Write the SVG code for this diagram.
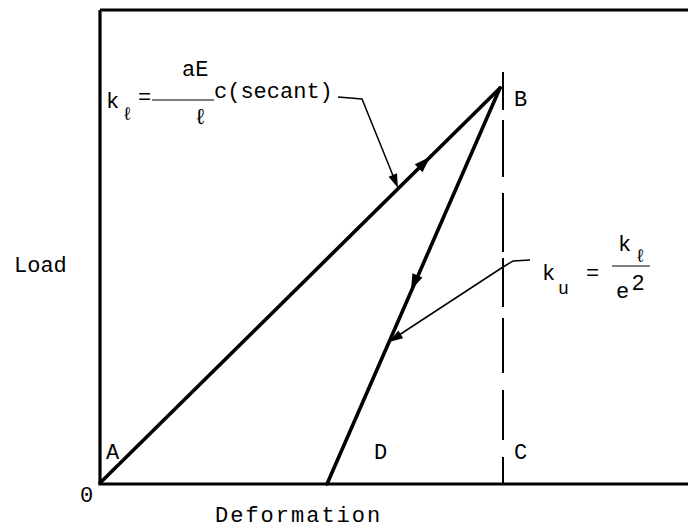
<svg xmlns="http://www.w3.org/2000/svg" width="688" height="530" viewBox="0 0 688 530">
<style>
text{font-family:"Liberation Mono","DejaVu Sans Mono",monospace;fill:#000;font-size:22px}
.sm{font-size:18px}
.ax{stroke:#000;stroke-width:3.2;fill:none}
.ln{stroke:#000;stroke-width:3.6;fill:none;stroke-linecap:round}
.ld{stroke:#000;stroke-width:1.5;fill:none}
.ds{stroke:#000;stroke-width:2;fill:none;stroke-dasharray:38 10 57 16 59 6 49 11 55 17 50 17 27 0}
.ah{fill:#000}
</style>
<rect width="688" height="530" fill="#fff"/>
<g id="axes">
<path class="ax" d="M100,10 V484 H688 M100,10 H688"/>
<text x="14" y="272">Load</text>
<text x="215" y="522" letter-spacing="2">Deformation</text>
<text x="80" y="502">0</text>
</g>
<g id="connectors">
<path class="ds" d="M503,72 V484"/>
<path class="ln" d="M100,483 L500,88"/>
<path class="ln" d="M500,88 L327,484"/>
<polygon class="ah" points="0,0 -16,-5.5 -16,5.5" transform="translate(430,157) rotate(-44.7)"/>
<polygon class="ah" points="0,0 -16,-5.5 -16,5.5" transform="translate(411,290) rotate(113.7)"/>
<path class="ld" d="M338,97 L362,99 L396,183"/>
<polygon class="ah" points="0,0 -14,-4.5 -14,4.5" transform="translate(398,188) rotate(68)"/>
<path class="ld" d="M530,260 L513,261 L503,267 L393,339"/>
<polygon class="ah" points="0,0 -14,-4.5 -14,4.5" transform="translate(389,342) rotate(147)"/>
</g>
<g id="A"><text x="106" y="459">A</text></g>
<g id="B"><text x="514" y="106">B</text></g>
<g id="C"><text x="514" y="459">C</text></g>
<g id="D"><text x="374" y="459">D</text></g>
<g id="kl-label">
<text x="106" y="108">k</text>
<text class="sm" x="122" y="120">ℓ</text>
<text x="138" y="104">=</text>
<text x="182" y="76">aE</text>
<text x="214" y="98">c(secant)</text>
<line x1="152" y1="100" x2="214" y2="100" stroke="#000" stroke-width="1.2"/>
<text x="194" y="124">ℓ</text>
</g>
<g id="ku-label">
<text x="542" y="280">k</text>
<text class="sm" x="558" y="294">u</text>
<text x="586" y="280">=</text>
<text x="618" y="251">k</text>
<text class="sm" x="635" y="262">ℓ</text>
<line x1="612" y1="266" x2="650" y2="266" stroke="#000" stroke-width="1.2"/>
<text x="616" y="298">e</text>
<text x="632" y="290" style="font-family:'Liberation Sans',sans-serif">2</text>
</g>
</svg>
